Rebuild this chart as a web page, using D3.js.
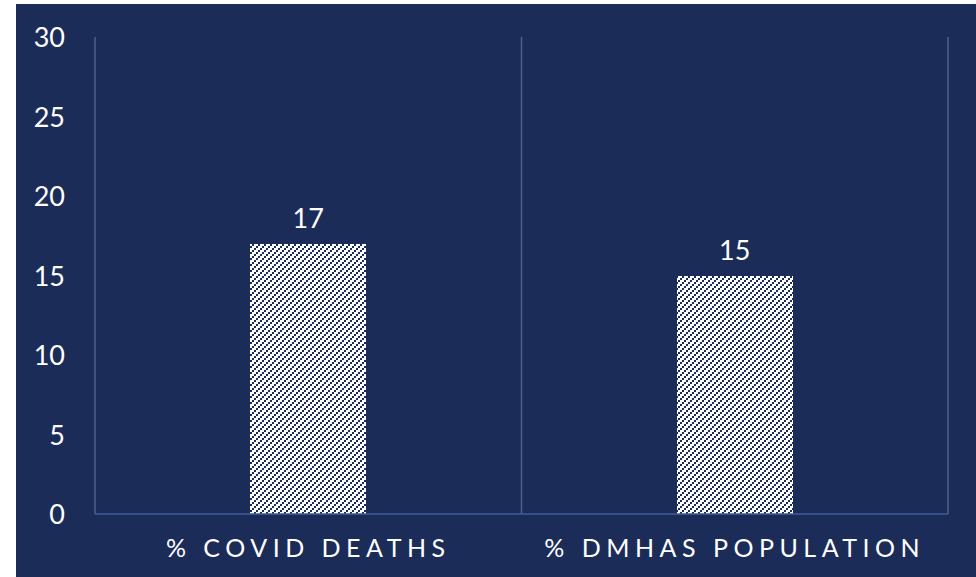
<!DOCTYPE html>
<html>
<head>
<meta charset="utf-8">
<script src="https://cdn.jsdelivr.net/npm/d3@7"></script>
<style>
  html, body { margin: 0; padding: 0; background: #fff; }
  svg text { font-family: Lato, "Open Sans", sans-serif; fill: #fff; }
</style>
</head>
<body>
<svg id="chart" width="976" height="577"></svg>
<script>
var categories = ['% COVID DEATHS', '% DMHAS POPULATION'];
var values = [17, 15];
var yTicks = [0, 5, 10, 15, 20, 25, 30];

var svg = d3.select('#chart');
var navy = '#1b2c59';

svg.append('rect')
    .attr('x', 16).attr('y', 4)
    .attr('width', 960).attr('height', 573)
    .attr('fill', navy);

// upward diagonal hatch, stair-stepped pixels
var defs = svg.append('defs');
var pat = defs.append('pattern')
    .attr('id', 'hatch')
    .attr('patternUnits', 'userSpaceOnUse')
    .attr('width', 6).attr('height', 6);
pat.append('rect').attr('width', 6).attr('height', 6).attr('fill', '#fff');
[[4, 0], [2, 2], [0, 4]].forEach(function(p) {
    pat.append('rect')
        .attr('x', p[0]).attr('y', p[1])
        .attr('width', 2).attr('height', 2)
        .attr('fill', navy)
        .attr('shape-rendering', 'crispEdges');
});

var plot = {left: 95, right: 948, top: 37, bottom: 514};

var x = d3.scaleBand()
    .domain(categories)
    .range([plot.left, plot.right])
    .paddingInner(0).paddingOuter(0);

var y = d3.scaleLinear()
    .domain([0, 30])
    .range([plot.bottom, plot.top]);

// vertical gridlines at category boundaries
var bounds = categories.map(function(c) { return x(c); }).concat([plot.right]);
svg.selectAll('line.vgrid')
    .data(bounds)
  .enter().append('line')
    .attr('class', 'vgrid')
    .attr('x1', function(d) { return d; })
    .attr('x2', function(d) { return d; })
    .attr('y1', plot.top)
    .attr('y2', plot.bottom)
    .attr('stroke', '#50618c')
    .attr('stroke-width', 1.5);

// bars
var barW = x.bandwidth() * 0.272;
svg.selectAll('rect.bar')
    .data(values)
  .enter().append('rect')
    .attr('class', 'bar')
    .attr('x', function(d, i) { return Math.round(x(categories[i]) + x.bandwidth()/2 - barW/2); })
    .attr('y', function(d) { return Math.round(y(d)); })
    .attr('width', Math.round(barW))
    .attr('height', function(d) { return Math.round(y(0)) - Math.round(y(d)); })
    .attr('fill', 'url(#hatch)');

// baseline
svg.append('line')
    .attr('x1', plot.left).attr('x2', plot.right)
    .attr('y1', plot.bottom).attr('y2', plot.bottom)
    .attr('stroke', '#3f5d9e')
    .attr('stroke-width', 1.5);

// value labels
svg.selectAll('text.val')
    .data(values)
  .enter().append('text')
    .attr('class', 'val')
    .attr('x', function(d, i) { return x(categories[i]) + x.bandwidth()/2; })
    .attr('y', function(d) { return y(d) - 16; })
    .attr('text-anchor', 'middle')
    .style('font-size', '27px')
    .text(function(d) { return d; });

// y axis labels
svg.selectAll('text.ytick')
    .data(yTicks)
  .enter().append('text')
    .attr('class', 'ytick')
    .attr('x', 65)
    .attr('y', function(d) { return y(d) + 10; })
    .attr('text-anchor', 'end')
    .style('font-size', '27px')
    .text(function(d) { return d; });

// category labels
svg.selectAll('text.cat')
    .data(categories)
  .enter().append('text')
    .attr('class', 'cat')
    .attr('x', function(d) { return x(d) + x.bandwidth()/2; })
    .attr('y', 557)
    .attr('text-anchor', 'middle')
    .style('font-size', '25px')
    .style('letter-spacing', '5.5px')
    .text(function(d) { return d; });
</script>
</body>
</html>
